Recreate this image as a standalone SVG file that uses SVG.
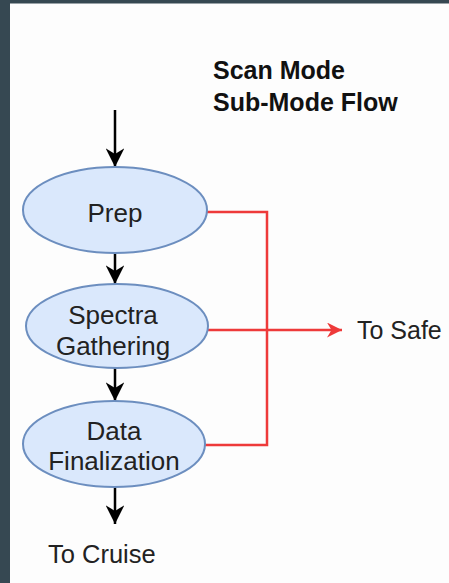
<svg xmlns="http://www.w3.org/2000/svg" width="449" height="583" viewBox="0 0 449 583">
<defs>
<style>
.node{fill:#dae8fc;stroke:#6c8ebf;stroke-width:2}
.t{font-family:"Liberation Sans",Arial,sans-serif;font-size:26px;fill:#222}
.title{font-family:"Liberation Sans",Arial,sans-serif;font-size:25px;font-weight:bold;fill:#111}
.blk{stroke:#000;stroke-width:2.5;fill:none}
.red{stroke:#ee3a3a;stroke-width:2.5;fill:none}
</style>
<marker id="ab" viewBox="0 0 10 10" refX="10" refY="5" markerWidth="7.5" markerHeight="7.5" orient="auto" markerUnits="strokeWidth"><path d="M0,0 L10,5 L0,10 L3,5 z" fill="#000"/></marker>
<marker id="ar" viewBox="0 0 10 10" refX="10" refY="5" markerWidth="6" markerHeight="6" orient="auto" markerUnits="strokeWidth"><path d="M0,0 L10,5 L0,10 L3,5 z" fill="#ee3a3a"/></marker>
</defs>
<rect width="449" height="583" fill="#fdfdfd"/>
<rect x="0" y="0" width="449" height="3.5" fill="#364852"/>
<rect x="0" y="0" width="10" height="583" fill="#364852"/>
<g id="title">
<text class="title" x="213" y="79">Scan Mode</text>
<text class="title" x="213" y="111">Sub-Mode Flow</text>
</g>
<g id="connectors">
<line class="blk" x1="115" y1="110" x2="115" y2="167" marker-end="url(#ab)"/>
<line class="blk" x1="115" y1="253" x2="115" y2="284" marker-end="url(#ab)"/>
<line class="blk" x1="115" y1="368" x2="115" y2="401" marker-end="url(#ab)"/>
<line class="blk" x1="115" y1="487" x2="115" y2="524" marker-end="url(#ab)"/>
<polyline class="red" points="207,212 267,212 267,445 205,445"/>
<line class="red" x1="207" y1="330" x2="342" y2="330" marker-end="url(#ar)"/>
</g>
<g id="prep">
<ellipse class="node" cx="115" cy="210" rx="92" ry="43"/>
<text class="t" x="115" y="222" text-anchor="middle">Prep</text>
</g>
<g id="spectra">
<ellipse class="node" cx="117" cy="326" rx="91" ry="42"/>
<text class="t" x="113" y="324" text-anchor="middle">Spectra</text>
<text class="t" x="113" y="355" text-anchor="middle">Gathering</text>
</g>
<g id="data">
<ellipse class="node" cx="114" cy="444" rx="91" ry="43"/>
<text class="t" x="114" y="440" text-anchor="middle">Data</text>
<text class="t" x="114" y="470" text-anchor="middle">Finalization</text>
</g>
<g id="toSafe"><text class="t" x="357" y="339" style="font-size:25px">To Safe</text></g>
<g id="toCruise"><text class="t" x="48" y="563" style="font-size:25.5px">To Cruise</text></g>
</svg>
